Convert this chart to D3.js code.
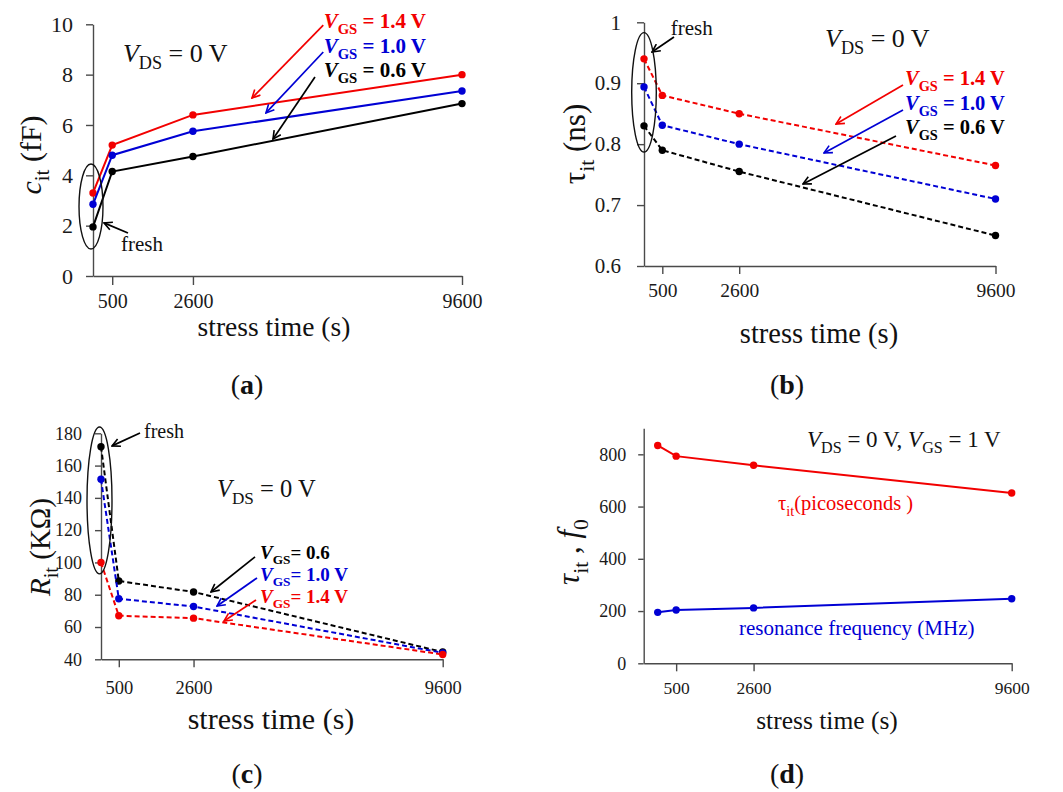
<!DOCTYPE html>
<html>
<head>
<meta charset="utf-8">
<script src="https://cdnjs.cloudflare.com/ajax/libs/d3/7.8.5/d3.min.js"></script>
<style>
  body { margin: 0; background: #fff; }
  svg { display: block; }
</style>
</head>
<body>
<div id="chart"></div>
<script>
// stress time (s); "fresh" device drawn at 0
var stressTime = [0, 500, 2600, 9600];
var xTickValues = [500, 2600, 9600];

// (a) interface trap capacitance c_it (fF)
var citVgs14 = [3.3, 5.2, 6.4, 8.0];
var citVgs10 = [2.85, 4.8, 5.75, 7.35];
var citVgs06 = [1.95, 4.15, 4.75, 6.85];
var citTicks = [0, 2, 4, 6, 8, 10];

// (b) time constant tau_it (ns)
var tauVgs14 = [0.94, 0.88, 0.85, 0.765];
var tauVgs10 = [0.894, 0.831, 0.80, 0.71];
var tauVgs06 = [0.83, 0.79, 0.755, 0.65];
var tauTicks = [0.6, 0.7, 0.8, 0.9, 1];

// (c) resistance R_it (kOhm)
var ritVgs14 = [100, 67, 65.5, 43];
var ritVgs10 = [151.5, 77.5, 72.7, 44];
var ritVgs06 = [171.7, 88.5, 81.7, 44.5];
var ritTicks = [40, 60, 80, 100, 120, 140, 160, 180];

// (d) VGS = 1 V: tau_it in ps and resonance frequency in MHz
var tauPicoseconds = [834, 793, 758, 652];
var resonanceMHz = [195, 204, 212, 247];
var dTicks = [0, 200, 400, 600, 800];

var RED = "#f20000", BLUE = "#0000d4", BLACK = "#000";
var FONT = "'Liberation Serif', 'Times New Roman', serif";

var width = 1063, height = 792;

var svg = d3.select("#chart").append("svg")
    .attr("width", width)
    .attr("height", height);

// open arrow heads, one per colour
var defs = svg.append("defs");
[["k", BLACK], ["r", RED], ["b", BLUE]].forEach(function(m) {
  defs.append("marker")
      .attr("id", "arrow-" + m[0])
      .attr("viewBox", "0 0 10 10")
      .attr("refX", 9).attr("refY", 5)
      .attr("markerWidth", 10).attr("markerHeight", 10)
      .attr("markerUnits", "userSpaceOnUse")
      .attr("orient", "auto")
    .append("path")
      .attr("d", "M1,1 L9,5 L1,9")
      .style("fill", "none")
      .style("stroke", m[1])
      .style("stroke-width", 1.6);
});

// text made of pieces: [string, flags] flags: i italic, s subscript, b bold
function richText(g, x, y, parts, o) {
  var fs = o.size;
  var t = g.append("text")
      .attr("x", x).attr("y", y)
      .attr("text-anchor", o.anchor || "start")
      .style("font-family", FONT)
      .style("font-size", fs + "px")
      .style("font-weight", o.bold ? "bold" : "normal")
      .style("fill", o.color || "#111");
  if (o.transform) t.attr("transform", o.transform).attr("x", 0).attr("y", 0);
  var inSub = false;
  parts.forEach(function(p) {
    var f = p[1] || "";
    var sp = t.append("tspan").text(p[0]);
    var sub = f.indexOf("s") >= 0;
    if (f.indexOf("i") >= 0) sp.style("font-style", "italic");
    if (f.indexOf("b") >= 0) sp.style("font-weight", "bold");
    if (sub) sp.style("font-size", (fs * 0.7) + "px");
    if (sub && !inSub) sp.attr("dy", fs * 0.28);
    if (!sub && inSub) sp.attr("dy", -fs * 0.28);
    inSub = sub;
  });
  return t;
}

function drawPanel(cfg) {
  var g = svg.append("g");
  var x = d3.scaleLinear().domain(cfg.xDomain).range([cfg.left, cfg.right]);
  var y = d3.scaleLinear().domain(cfg.yDomain).range([cfg.bottom, cfg.top]);

  var xAxis = g.append("g")
      .attr("transform", "translate(0," + cfg.bottom + ")")
      .call(d3.axisBottom(x)
        .tickValues(xTickValues)
        .tickSizeInner(cfg.xTick)
        .tickSizeOuter(0)
        .tickPadding(cfg.xPad)
        .tickFormat(d3.format("d")));
  var yAxis = g.append("g")
      .attr("transform", "translate(" + cfg.left + ",0)")
      .call(d3.axisLeft(y)
        .tickValues(cfg.yTicks)
        .tickSizeInner(cfg.yTick)
        .tickSizeOuter(0)
        .tickPadding(cfg.yPad)
        .tickFormat(function(d) { return String(+d.toFixed(1)); }));

  [xAxis, yAxis].forEach(function(a) {
    a.selectAll("path, line").style("stroke", "#4a4a4a").style("stroke-width", 1.4);
    a.selectAll("text")
        .style("font-family", FONT)
        .style("fill", "#1a1a1a");
  });
  xAxis.selectAll("text").style("font-size", cfg.xFont + "px");
  yAxis.selectAll("text").style("font-size", cfg.yFont + "px");

  var line = d3.line()
      .x(function(d, i) { return x(stressTime[i]); })
      .y(function(d) { return y(d); });

  cfg.series.forEach(function(s) {
    g.append("path")
        .datum(s.values)
        .attr("d", line)
        .style("fill", "none")
        .style("stroke", s.color)
        .style("stroke-width", 2)
        .style("stroke-dasharray", cfg.dashed ? "5,3" : null);
    g.selectAll(null)
        .data(s.values)
      .enter().append("circle")
        .attr("cx", function(d, i) { return x(stressTime[i]); })
        .attr("cy", function(d) { return y(d); })
        .attr("r", 3.7)
        .style("fill", s.color);
  });

  // annotations, given in data units
  (cfg.arrows || []).forEach(function(a) {
    g.append("line")
        .attr("x1", x(a.from[0])).attr("y1", y(a.from[1]))
        .attr("x2", x(a.to[0])).attr("y2", y(a.to[1]))
        .style("stroke", a.color)
        .style("stroke-width", 1.7)
        .attr("marker-end", "url(#arrow-" + a.mk + ")");
  });
  if (cfg.ellipse) {
    var e = cfg.ellipse;
    g.append("ellipse")
        .attr("cx", x(e.cx)).attr("cy", y(e.cy))
        .attr("rx", x(e.cx + e.rx) - x(e.cx))
        .attr("ry", y(e.cy) - y(e.cy + e.ry))
        .style("fill", "none")
        .style("stroke", "#111")
        .style("stroke-width", 1.4);
  }
  (cfg.labels || []).forEach(function(l) {
    richText(g, x(l.at[0]), y(l.at[1]), l.parts,
      { size: l.size, color: l.color, bold: l.bold, anchor: l.anchor });
  });

  // axis titles and caption
  richText(g, cfg.xTitle[0], cfg.xTitle[1], [["stress time (s)"]],
    { size: cfg.xTitle[2], anchor: "middle" });
  richText(g, 0, 0, cfg.yTitle.parts,
    { size: cfg.yTitle.size, anchor: "middle",
      transform: "translate(" + cfg.yTitle.x + "," + cfg.yTitle.y + ") rotate(-90)" });
  richText(g, cfg.caption[0], cfg.caption[1], [["("], [cfg.caption[2], "b"], [")"]],
    { size: 28, anchor: "middle" });
}

function vgs(val, color, size) {
  return { parts: [["V", "i"], ["GS", "s"], [" = " + val]], color: color, bold: true, size: size };
}

// (a)
drawPanel({
  xDomain: [0, 9600], left: 93, right: 462,
  yDomain: [0, 10], bottom: 276, top: 24.3,
  yTicks: citTicks, xTick: 9, xPad: 9, yTick: 7, yPad: 13, xFont: 20, yFont: 22,
  dashed: false,
  series: [
    { values: citVgs14, color: RED },
    { values: citVgs10, color: BLUE },
    { values: citVgs06, color: BLACK }
  ],
  arrows: [
    { from: [5991, 9.97], to: [4136, 7.07], color: RED, mk: "r" },
    { from: [5991, 8.90], to: [4500, 6.48], color: BLUE, mk: "b" },
    { from: [5775, 7.91], to: [4683, 5.44], color: BLACK, mk: "k" },
    { from: [910, 1.71], to: [286, 2.11], color: BLACK, mk: "k" }
  ],
  ellipse: { cx: -52, cy: 2.76, rx: 312, ry: 1.69 },
  labels: [
    Object.assign({ at: [6000, 9.85] }, vgs("1.4 V", RED, 21)),
    Object.assign({ at: [6000, 8.86] }, vgs("1.0 V", BLUE, 21)),
    Object.assign({ at: [6000, 7.91] }, vgs("0.6 V", BLACK, 21)),
    { at: [780, 8.5], parts: [["V", "i"], ["DS", "s"], [" = 0 V"]], size: 26 },
    { at: [728, 1.0], parts: [["fresh"]], size: 21 }
  ],
  xTitle: [274, 336, 27.5],
  yTitle: { x: 41, y: 155, size: 30, parts: [["c", "i"], ["it", "s"], [" (fF)"]] },
  caption: [247, 394, "a"]
});

// (b)
drawPanel({
  xDomain: [0, 9600], left: 644, right: 995.5,
  yDomain: [0.6, 1], bottom: 266, top: 22.3,
  yTicks: tauTicks, xTick: 8, xPad: 9, yTick: 7, yPad: 16, xFont: 19.5, yFont: 21,
  dashed: true,
  series: [
    { values: tauVgs14, color: RED },
    { values: tauVgs10, color: BLUE },
    { values: tauVgs06, color: BLACK }
  ],
  arrows: [
    { from: [7074, 0.8971], to: [5244, 0.8331], color: RED, mk: "r" },
    { from: [7074, 0.8561], to: [4916, 0.7855], color: BLUE, mk: "b" },
    { from: [6882, 0.8134], to: [4342, 0.7346], color: BLACK, mk: "k" },
    { from: [819, 0.9759], to: [218, 0.9512], color: BLACK, mk: "k" }
  ],
  ellipse: { cx: 0, cy: 0.885, rx: 336, ry: 0.098 },
  labels: [
    Object.assign({ at: [7128, 0.8971] }, vgs("1.4 V", RED, 20.5)),
    Object.assign({ at: [7128, 0.8561] }, vgs("1.0 V", BLUE, 20.5)),
    Object.assign({ at: [7128, 0.8167] }, vgs("0.6 V", BLACK, 20.5)),
    { at: [4943, 0.9595], parts: [["V", "i"], ["DS", "s"], [" = 0 V"]], size: 26 },
    { at: [729, 0.9796], parts: [["fresh"]], size: 21 }
  ],
  xTitle: [819, 343, 28.5],
  yTitle: { x: 585, y: 144, size: 31, parts: [["τ"], ["it", "s"], [" (ns)"]] },
  caption: [787, 394, "b"]
});

// (c)
drawPanel({
  xDomain: [0, 9600], left: 101, right: 442.7,
  yDomain: [40, 180], bottom: 659.3, top: 433.3,
  yTicks: ritTicks, xTick: 8, xPad: 14, yTick: 6, yPad: 13, xFont: 18.5, yFont: 18,
  dashed: true,
  series: [
    { values: ritVgs06, color: BLACK },
    { values: ritVgs10, color: BLUE },
    { values: ritVgs14, color: RED }
  ],
  arrows: [
    { from: [4327, 103.4], to: [3090, 81.7], color: BLACK, mk: "k" },
    { from: [4383, 90.4], to: [3259, 73.0], color: BLUE, mk: "b" },
    { from: [4355, 76.7], to: [3456, 63.7], color: RED, mk: "r" },
    { from: [1096, 180.2], to: [309, 172.2], color: BLACK, mk: "k" }
  ],
  ellipse: { cx: -42, cy: 138.4, rx: 351, ry: 45.5 },
  labels: [
    { at: [4467, 102.1], parts: [["V", "i"], ["GS", "s"], ["= 0.6"]], color: BLACK, bold: true, size: 19 },
    { at: [4467, 88.5], parts: [["V", "i"], ["GS", "s"], ["= 1.0 V"]], color: BLUE, bold: true, size: 19 },
    { at: [4467, 74.9], parts: [["V", "i"], ["GS", "s"], ["= 1.4 V"]], color: RED, bold: true, size: 19 },
    { at: [3259, 140.7], parts: [["V", "i"], ["DS", "s"], [" = 0 V"]], size: 24.5 },
    { at: [1208, 177.1], parts: [["fresh"]], size: 20 }
  ],
  xTitle: [271, 729, 30],
  yTitle: { x: 50, y: 547, size: 29, parts: [["R", "i"], ["it", "s"], [" (KΩ)"]] },
  caption: [247, 783, "c"]
});

// (d)
drawPanel({
  xDomain: [-380, 9600], left: 643.7, right: 1011.7,
  yDomain: [0, 900], bottom: 663.3, top: 428.2,
  yTicks: dTicks, xTick: 8, xPad: 10, yTick: 5.5, yPad: 12, xFont: 17.5, yFont: 18,
  dashed: false,
  series: [
    { values: tauPicoseconds, color: RED },
    { values: resonanceMHz, color: BLUE }
  ],
  labels: [
    { at: [4049, 829], parts: [["V", "i"], ["DS", "s"], [" = 0 V, "], ["V", "i"], ["GS", "s"], [" = 1 V"]], size: 23 },
    { at: [3262, 587], parts: [["τ"], ["it", "s"], ["(picoseconds )"]], color: RED, size: 20.5 },
    { at: [2204, 108], parts: [["resonance  frequency  (MHz)"]], color: BLUE, size: 21 }
  ],
  xTitle: [827, 729, 25.5],
  yTitle: { x: 579, y: 552, size: 31, parts: [["τ", "i"], ["it", "s"], [" , "], ["f", "i"], ["0", "s"]] },
  caption: [787, 783, "d"]
});
</script>
</body>
</html>
